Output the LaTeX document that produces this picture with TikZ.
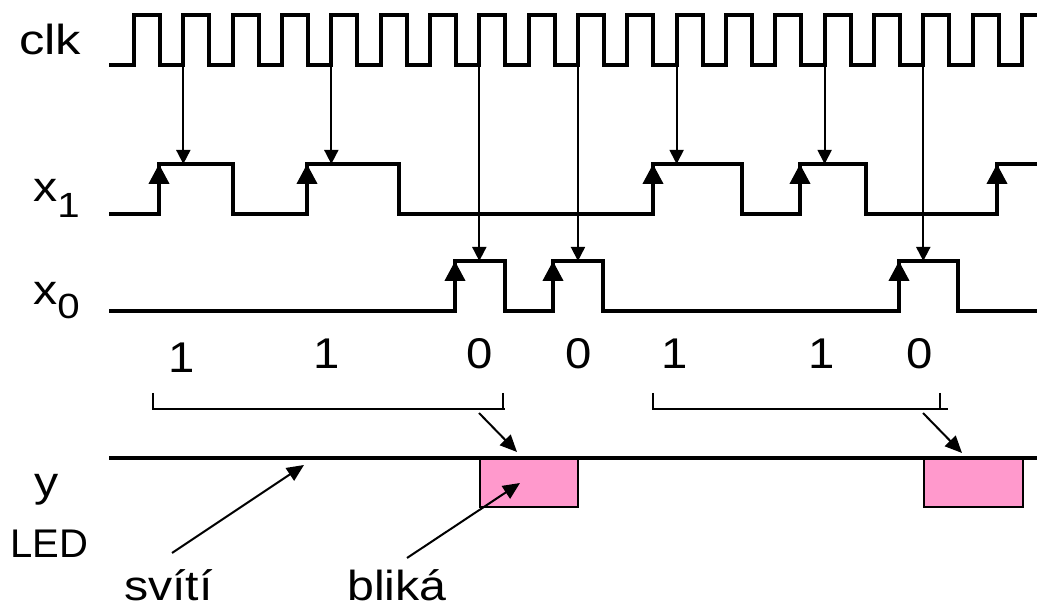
\documentclass[tikz,border=0pt]{standalone}
\usepackage{fontspec}
\setmainfont{Liberation Sans}
\usetikzlibrary{arrows.meta}
\definecolor{ledpink}{RGB}{255,153,204}

\begin{document}
\begin{tikzpicture}[x=1pt,y=-1pt,
  wave/.style={line width=4pt},
  thinline/.style={line width=2pt},
  edgetip/.style={line width=4pt,-{Triangle[width=20pt,length=20pt]}},
  clkarrow/.style={line width=1.8pt,-{Triangle[width=14pt,length=14pt]}},
  notearrow/.style={line width=2pt,-{Triangle[width=15pt,length=17pt]}},
  ledbox/.style={line width=2.5pt,fill=ledpink},
  lbl/.style={inner sep=0pt,anchor=base west,xscale=1.15,font=\fontsize{42}{48}\selectfont},
  digit/.style={inner sep=0pt,anchor=base,xscale=1.1,font=\fontsize{43}{48}\selectfont}]

\useasboundingbox (0,0) rectangle (1037,609);

% signal names
\node[lbl,xscale=1.05] (clk) at (19,55) {clk};
\node[lbl] (x1) at (33,202) {x\raisebox{-16pt}{\fontsize{35}{40}\selectfont 1}};
\node[lbl] (x0) at (33,305) {x\raisebox{-14pt}{\fontsize{35}{40}\selectfont 0}};
\node[lbl] (y) at (34,497) {y};
\node[lbl,xscale=0.87,font=\fontsize{40}{46}\selectfont] (led) at (10,558) {LED};

% clock: period 49.33, high phase 26
\draw[wave] (109,65)
  foreach \k in {0,...,17} {
    -- ({134+49.33*\k},65) -- ({134+49.33*\k},15)
    -- ({160+49.33*\k},15) -- ({160+49.33*\k},65) }
  -- (1022,65) -- (1022,15) -- (1037,15);

% x1
\draw[wave] (109,214) -- (159,214) -- (159,164) -- (233,164) -- (233,214)
  -- (307,214) -- (307,164) -- (399,164) -- (399,214)
  -- (653,214) -- (653,164) -- (742,164) -- (742,214)
  -- (800,214) -- (800,164) -- (866,164) -- (866,214)
  -- (997,214) -- (997,164) -- (1037,164);
\foreach \e in {159,307,653,800,997} {
  \coordinate (x1lo\e) at (\e,214);
  \coordinate (x1hi\e) at (\e,164);
  \draw[edgetip] (x1lo\e) -- (x1hi\e);
}

% x0
\draw[wave] (109,311) -- (455,311) -- (455,261) -- (505,261) -- (505,311)
  -- (553,311) -- (553,261) -- (603,261) -- (603,311)
  -- (899,311) -- (899,261) -- (958,261) -- (958,311) -- (1037,311);
\foreach \e in {455,553,899} {
  \coordinate (x0lo\e) at (\e,311);
  \coordinate (x0hi\e) at (\e,261);
  \draw[edgetip] (x0lo\e) -- (x0hi\e);
}

% sampling clock edges
\foreach \k/\ty in {1/164,4/164,7/261,9/261,11/164,14/164,16/261} {
  \coordinate (ck\k) at ({134+49.33*\k},65);
  \coordinate (tg\k) at ({134+49.33*\k},\ty);
  \draw[clkarrow] (ck\k) -- (tg\k);
}

% sampled values
\node[digit] (b1) at (182,373) {1};
\node[digit] (b2) at (327,369) {1};
\node[digit] (b3) at (480,369) {0};
\node[digit] (b4) at (579,369) {0};
\node[digit] (b5) at (675,369) {1};
\node[digit] (b6) at (822,369) {1};
\node[digit] (b7) at (920,369) {0};

% groups
\draw[thinline] (153,393) -- (153,409) -- (505,409);
\draw[thinline] (503,393) -- (503,409);
\draw[thinline] (653,393) -- (653,409) -- (948,409);
\draw[thinline] (940,393) -- (940,409);

% LED output
\draw[ledbox] (480,458) rectangle (578,507);
\draw[ledbox] (924,458) rectangle (1023,507);
\draw[wave] (109,458) -- (1037,458);

\coordinate (g1) at (479,413);
\coordinate (p1) at (517,452);
\coordinate (g2) at (923,413);
\coordinate (p2) at (962,453);
\draw[notearrow] (g1) -- (p1);
\draw[notearrow] (g2) -- (p2);

% annotations
\node[lbl] (sviti) at (124,601) {svítí};
\node[lbl] (blika) at (347,601) {bliká};
\coordinate (sv) at (172,553);
\coordinate (svt) at (304,465);
\coordinate (bl) at (407,558);
\coordinate (blt) at (520,483);
\draw[notearrow] (sv) -- (svt);
\draw[notearrow] (bl) -- (blt);

\end{tikzpicture}
\end{document}
